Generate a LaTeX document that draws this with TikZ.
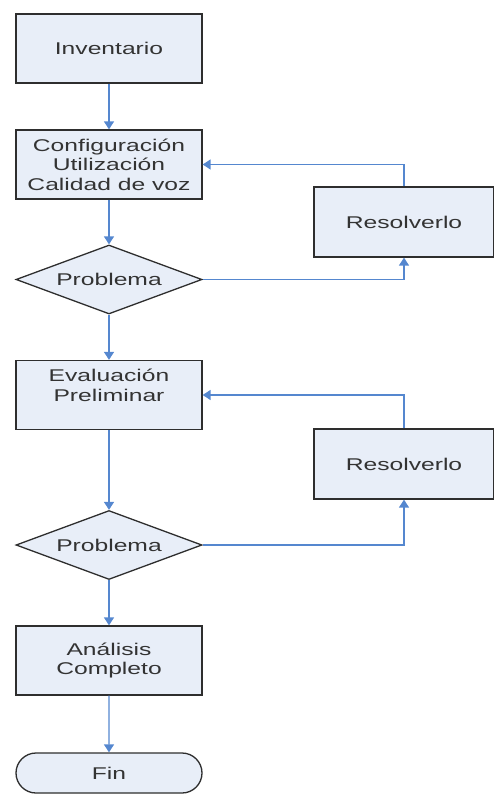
\documentclass[tikz,border=0pt]{standalone}
\usepackage{fontspec}
\setmainfont[FakeStretch=1.45]{Liberation Sans}
\usetikzlibrary{shapes.geometric,shapes.misc,arrows.meta}
\definecolor{boxfill}{HTML}{E8EEF8}
\definecolor{boxline}{HTML}{2E2E2E}
\definecolor{flow}{HTML}{5587CF}
\definecolor{ink}{HTML}{333333}
\begin{document}
\begin{tikzpicture}[x=1pt,y=-1pt,
  base/.style={draw=boxline,line width=1.3pt,fill=boxfill,text=ink,inner sep=0pt,
    font=\fontsize{17}{19.5}\selectfont,align=center},
  procbox/.style={base,rectangle,minimum width=186pt,minimum height=69pt},
  fixbox/.style={base,rectangle,minimum width=180pt,minimum height=70pt},
  decision/.style={base,diamond,aspect=2.7,minimum width=186pt,minimum height=69pt},
  terminal/.style={base,rounded rectangle,minimum width=186pt,minimum height=40pt},
  link/.style={draw=flow,line width=1.4pt,-{Triangle[length=8pt,width=10pt]}}]
\useasboundingbox (0,0) rectangle (494,794);

% main column
\node[procbox] (inv) at (109,48.5) {Inventario};
\node[procbox] (cfg) at (109,164.5) {Configuración\\Utilización\\Calidad de voz};
\node[decision] (d1) at (109,279.5) {Problema};
\node[procbox] (eva) at (109,395) {Evaluación\\Preliminar\\ };
\node[decision] (d2) at (109,545) {Problema};
\node[procbox] (ana) at (109,660.5) {Análisis\\Completo};
\node[terminal] (fin) at (109,773) {Fin};

% correction loops
\node[fixbox] (res1) at (404,222) {Resolverlo};
\node[fixbox] (res2) at (404,464) {Resolverlo};

% forward flow
\draw[link] (inv) -- (cfg);
\draw[link] (cfg) -- (d1);
\draw[link] (d1) -- (eva);
\draw[link] (eva) -- (d2);
\draw[link] (d2) -- (ana);
\draw[link] (ana) -- (fin);

% loops back
\draw[link] (d1.east) -| (res1.south);
\draw[link] (res1.north) |- (cfg.east);
\draw[link] (d2.east) -| (res2.south);
\draw[link] (res2.north) |- (eva.east);
\end{tikzpicture}
\end{document}
